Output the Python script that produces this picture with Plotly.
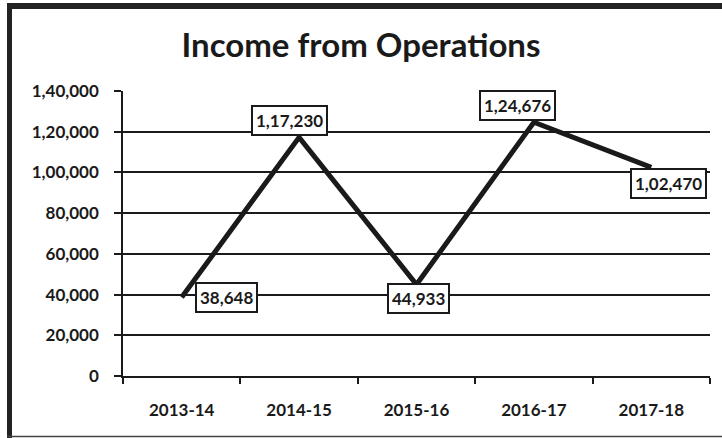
import plotly.graph_objects as go

years = ["2013-14", "2014-15", "2015-16", "2016-17", "2017-18"]
income = [38648, 117230, 44933, 124676, 102470]
y_ticks = [0, 20000, 40000, 60000, 80000, 100000, 120000, 140000]


def indian(n):
    s = str(int(n))
    if len(s) <= 3:
        return s
    last3 = s[-3:]
    rest = s[:-3]
    parts = []
    while len(rest) > 2:
        parts.insert(0, rest[-2:])
        rest = rest[:-2]
    if rest:
        parts.insert(0, rest)
    return ",".join(parts) + "," + last3


W, H = 722, 438
L, R, T, B = 123, 12, 91, 62
PW, PH = W - L - R, H - T - B


def px(x):
    return (x - L) / PW


def py(y):
    return (H - B - y) / PH


FONT = "Lato"
INK = "#1a1a1a"

fig = go.Figure()
fig.add_trace(go.Scatter(
    x=years, y=income, mode="lines",
    line=dict(color=INK, width=5),
    hoverinfo="skip", showlegend=False,
))

# label offsets (pixels) per point
offsets = [(45, 0), (-10, -17), (2, 14), (-16, -17), (17, 16)]
for yr, v, (ax, ay) in zip(years, income, offsets):
    fig.add_annotation(
        x=yr, y=v, xref="x", yref="y", text=indian(v),
        showarrow=True, arrowcolor="rgba(0,0,0,0)", ax=ax, ay=ay,
        font=dict(family=FONT, size=17, color=INK, weight="bold"),
        bordercolor=INK, borderwidth=2, borderpad=3, bgcolor="white",
    )

# outer frame (left, top, bottom)
fig.add_shape(type="line", xref="paper", yref="paper",
              x0=px(9.5), x1=px(9.5), y0=py(438), y1=py(3),
              line=dict(color="#222", width=5))
fig.add_shape(type="line", xref="paper", yref="paper",
              x0=px(7), x1=px(722), y0=py(6), y1=py(6),
              line=dict(color="#222", width=6))
fig.add_shape(type="line", xref="paper", yref="paper",
              x0=px(7), x1=px(722), y0=py(436.5), y1=py(436.5),
              line=dict(color="#444", width=1.5))

fig.update_layout(
    width=W, height=H, autosize=False,
    margin=dict(l=L, r=R, t=T, b=B),
    paper_bgcolor="white", plot_bgcolor="white",
    title=dict(text="<b>Income from Operations</b>", x=(361 - L) / PW,
               xanchor="center", xref="paper", y=1 - 45 / H, yanchor="middle",
               font=dict(family=FONT, size=33, color=INK)),
    font=dict(family=FONT, color=INK),
)
fig.update_xaxes(
    type="category", range=[-0.5, 4.5], tickson="boundaries",
    ticks="outside", ticklen=6,
    tickwidth=1.5, tickcolor=INK, showline=True, linecolor=INK,
    linewidth=1.5, showgrid=False, ticklabelstandoff=18,
    tickfont=dict(family=FONT, size=17, color=INK, weight="bold"),
    fixedrange=True,
)
fig.update_yaxes(
    range=[0, 140000], tickvals=y_ticks, ticktext=[indian(v) for v in y_ticks],
    ticks="outside", ticklen=7, tickwidth=1.5, tickcolor=INK,
    showline=True, linecolor=INK, linewidth=1.5,
    showgrid=True, gridcolor=INK, gridwidth=1.5, zeroline=False,
    tickfont=dict(family=FONT, size=17, color=INK, weight="bold"),
    ticklabelstandoff=12,
    fixedrange=True,
)
fig.write_html("out.html", post_script="document.body.style.margin='0';",
               config={"displayModeBar": False})
